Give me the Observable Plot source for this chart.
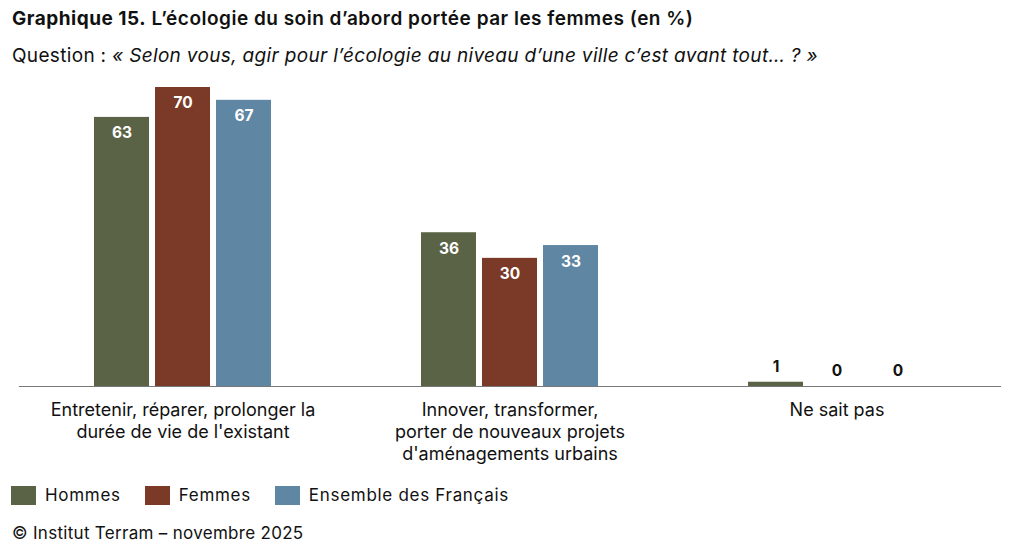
<!DOCTYPE html>
<html><head><meta charset="utf-8">
<script src="https://cdn.jsdelivr.net/npm/d3@7"></script>
<script src="https://cdn.jsdelivr.net/npm/@observablehq/plot@0.6"></script>
<style>
body{margin:0;background:#fff;font-family:Inter,"Open Sans",sans-serif;color:#111;width:1024px;height:552px;overflow:hidden;position:relative}
#title{position:absolute;left:12px;top:7px;font-size:19px;font-weight:600;letter-spacing:0.5px;white-space:nowrap}
#title b{font-weight:700}
#sub{position:absolute;left:12px;top:44px;font-size:19px;letter-spacing:0.33px;white-space:nowrap}
#chart{position:absolute;left:0;top:80px}
#legend{position:absolute;left:11px;top:485px;font-size:17px;letter-spacing:0.7px;display:flex;align-items:center;white-space:nowrap}
.sw{display:inline-block;width:25px;height:19px;margin-right:9px}
.it{display:flex;align-items:center;margin-right:24px}
#foot{position:absolute;left:12px;top:523px;font-size:17px;letter-spacing:0.3px;white-space:nowrap}
</style></head><body>
<div id="title"><b>Graphique 15.</b> L’écologie du soin d’abord portée par les femmes (en %)</div>
<div id="sub">Question : <i>« Selon vous, agir pour l’écologie au niveau d’une ville c’est avant tout… ? »</i></div>
<div id="chart"></div>
<div id="legend"></div>
<div id="foot">© Institut Terram – novembre 2025</div>
<script>
const groups = ["Entretenir, réparer, prolonger la\ndurée de vie de l'existant", "Innover, transformer,\nporter de nouveaux projets\nd'aménagements urbains", "Ne sait pas"];
const series = ["Hommes", "Femmes", "Ensemble des Français"];
const colors = ["#5b6346", "#7b3a27", "#5f86a3"];
const hommes = [63, 36, 1];
const femmes = [70, 30, 0];
const ensemble = [67, 33, 0];

const values = [hommes, femmes, ensemble];
const data = [];
groups.forEach((g, i) => series.forEach((s, j) => data.push({group: g, series: s, value: values[j][i]})));

const chart = Plot.plot({
  width: 1024, height: 390,
  marginTop: 7, marginBottom: 84, marginLeft: 8, marginRight: 14,
  style: {fontFamily: "Inter, 'Open Sans', sans-serif", color: "#111"},
  fx: {domain: groups, paddingInner: 0, paddingOuter: 0.0298, label: null},
  x: {domain: series, paddingInner: 0.097, paddingOuter: 1.19, axis: null},
  y: {domain: [0, 70], axis: null},
  color: {domain: series, range: colors},
  marks: [
    Plot.frame({anchor: "bottom", facet: "super", stroke: "#777", strokeWidth: 1}),
    Plot.barY(data, {fx: "group", x: "series", y: "value", fill: "series"}),
    Plot.text(data.filter(d => d.value >= 10), {fx: "group", x: "series", y: "value", text: d => String(d.value), fill: "white", fontWeight: 700, fontSize: 15.5, dy: 16}),
    Plot.text(data.filter(d => d.value < 10), {fx: "group", x: "series", y: "value", text: d => String(d.value), fill: "#111", fontWeight: 700, fontSize: 15.5, dy: -15}),
    Plot.axisFx({anchor: "bottom", tickSize: 0, tickPadding: 14, fontSize: 18, lineHeight: 1.22, label: null, fill: "#111", style: "letter-spacing:0.6px"})
  ]
});
document.getElementById("chart").appendChild(chart);

const leg = document.getElementById("legend");
series.forEach((s, i) => {
  const it = document.createElement("div"); it.className = "it";
  it.innerHTML = `<span class="sw" style="background:${colors[i]}"></span>${s}`;
  leg.appendChild(it);
});
</script></body></html>
